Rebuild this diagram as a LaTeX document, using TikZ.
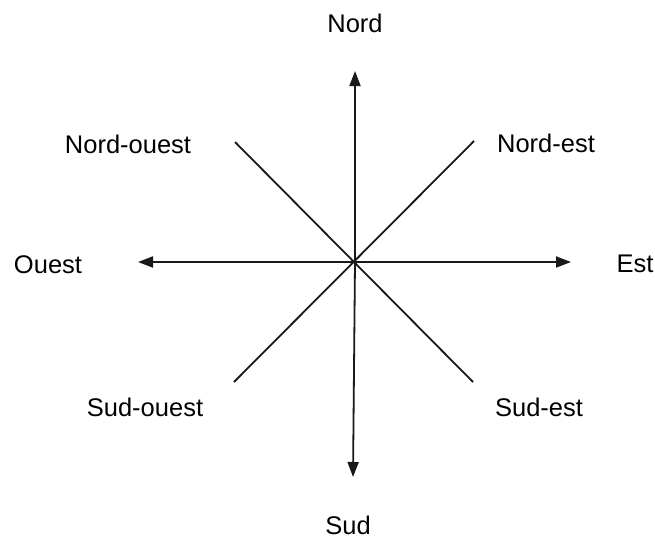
\documentclass[tikz,border=0pt]{standalone}
\usepackage{fontspec}
\setmainfont{Liberation Sans}
\usetikzlibrary{arrows.meta}
\begin{document}
\begin{tikzpicture}[x=1pt,y=-1pt,
  ray/.style={line width=1.8pt,draw=black!90},
  arr/.style={ray,-{Triangle[length=15pt,width=11pt]}},
  lab/.style={anchor=base,inner sep=0pt,font=\fontsize{25.5}{28}\selectfont}]
\useasboundingbox (0,0) rectangle (655,538);
\coordinate (O) at (355,262);
\coordinate (N) at (355,71);
\coordinate (S) at (353,477);
\coordinate (W) at (138,262);
\coordinate (E) at (571,262);
\coordinate (NW) at (235,142);
\coordinate (NE) at (474,141);
\coordinate (SW) at (234,382);
\coordinate (SE) at (473,382);
\draw[arr] (O) -- (N);
\draw[arr] (O) -- (S);
\draw[arr] (O) -- (W);
\draw[arr] (O) -- (E);
\draw[ray] (NW) -- (SE);
\draw[ray] (NE) -- (SW);
\node[lab] (lN) at (355,32) {Nord};
\node[lab] (lNW) at (128,153) {Nord-ouest};
\node[lab] (lNE) at (546,152) {Nord-est};
\node[lab] (lW) at (48,273) {Ouest};
\node[lab] (lE) at (635,272) {Est};
\node[lab] (lSW) at (145,416) {Sud-ouest};
\node[lab] (lSE) at (539,416) {Sud-est};
\node[lab] (lS) at (348,534) {Sud};
\end{tikzpicture}
\end{document}
